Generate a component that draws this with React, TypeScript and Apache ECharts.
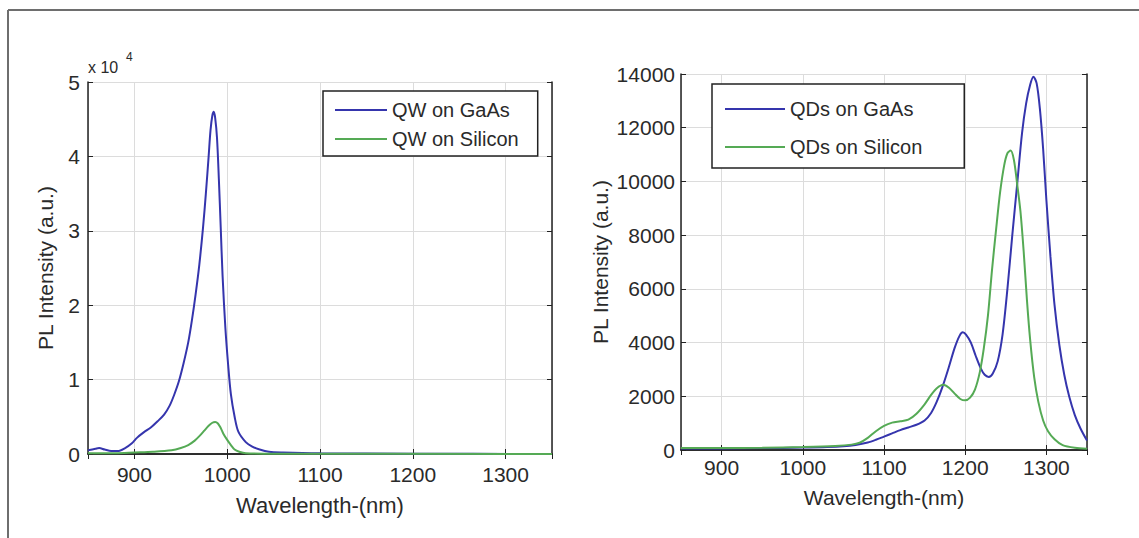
import React, { useEffect, useRef } from "react";
import * as echarts from "echarts";

// Left panel: QW spectra (values in units of 10^4 a.u.)
const qwGaAsWl = [850, 858, 862, 868, 875, 882, 890, 897, 903, 910, 918, 925, 932, 938, 943, 948, 953, 958, 962, 966, 970, 974, 977, 980, 982, 984, 985.5, 987, 989, 991, 993, 995, 998, 1001, 1004, 1008, 1012, 1020, 1027, 1035, 1045, 1060, 1100, 1200, 1350];
const qwGaAsVal = [0.05, 0.07, 0.08, 0.06, 0.04, 0.04, 0.08, 0.14, 0.22, 0.29, 0.36, 0.44, 0.53, 0.65, 0.8, 0.98, 1.22, 1.5, 1.8, 2.15, 2.55, 3.05, 3.5, 4.0, 4.35, 4.55, 4.6, 4.52, 4.25, 3.7, 3.05, 2.4, 1.7, 1.2, 0.8, 0.5, 0.3, 0.16, 0.1, 0.06, 0.03, 0.02, 0.01, 0.005, 0];
const qwSiWl = [850, 880, 900, 920, 940, 950, 958, 965, 970, 975, 980, 984, 987, 990, 993, 996, 1000, 1004, 1008, 1013, 1020, 1040, 1350];
const qwSiVal = [0.01, 0.01, 0.02, 0.03, 0.05, 0.08, 0.12, 0.18, 0.24, 0.31, 0.38, 0.42, 0.43, 0.41, 0.35, 0.27, 0.19, 0.12, 0.06, 0.03, 0.01, 0.005, 0];

// Right panel: QD spectra (a.u.)
const qdGaAsWl = [850, 900, 950, 1000, 1030, 1050, 1065, 1080, 1090, 1100, 1110, 1120, 1130, 1140, 1150, 1158, 1165, 1172, 1180, 1187, 1193, 1197, 1201, 1207, 1213, 1219, 1224, 1229, 1234, 1240, 1246, 1252, 1258, 1264, 1270, 1275, 1280, 1284, 1288, 1292, 1296, 1300, 1305, 1310, 1316, 1322, 1328, 1335, 1342, 1350];
const qdGaAsVal = [60, 60, 70, 90, 110, 140, 190, 280, 380, 500, 620, 740, 840, 940, 1100, 1380, 1800, 2350, 3100, 3800, 4250, 4380, 4300, 4000, 3500, 3050, 2800, 2720, 2850, 3300, 4300, 6000, 8000, 9900, 11800, 12900, 13600, 13900, 13650, 12700, 11200, 9300, 7200, 5400, 3900, 2800, 2000, 1300, 800, 350];
const qdSiWl = [850, 900, 950, 1000, 1040, 1060, 1070, 1080, 1090, 1100, 1110, 1120, 1130, 1140, 1150, 1158, 1165, 1173, 1180, 1187, 1194, 1200, 1206, 1212, 1218, 1223, 1228, 1233, 1238, 1243, 1248, 1252, 1256, 1260, 1264, 1268, 1272, 1276, 1280, 1285, 1290, 1296, 1302, 1310, 1320, 1335, 1350];
const qdSiVal = [70, 70, 80, 110, 150, 200, 270, 450, 700, 900, 1020, 1070, 1130, 1350, 1700, 2050, 2300, 2430, 2320, 2100, 1900, 1850, 1950, 2250, 2900, 3800, 5000, 6700, 8200, 9600, 10600, 11050, 11150, 10800, 9900, 8900, 7400, 5600, 4100, 2700, 1800, 1100, 700, 400, 180, 80, 50];

const leftNames = ["QW on GaAs", "QW on Silicon"];
const rightNames = ["QDs on GaAs", "QDs on Silicon"];
const xTitle = "Wavelength-(nm)";
const yTitle = "PL Intensity (a.u.)";

const BLUE = "#3535ad";
const GREEN = "#55aa55";
const FONT = "'Liberation Sans', Arial, Helvetica, sans-serif";
const TXT = "#2a2a2a";

const pairs = (xs: number[], ys: number[]) => xs.map((x, i) => [x, ys[i]]);

export default function App() {
  const ref = useRef<HTMLDivElement>(null);
  useEffect(() => {
    document.body.style.margin = "0";
    const chart = echarts.init(ref.current!, null, { renderer: "svg" });
    const axisLine = { show: true, lineStyle: { color: "#222", width: 1.5 } };
    const tick = { show: true, inside: true, length: 5, lineStyle: { color: "#222", width: 1 } };
    const split = { show: true, lineStyle: { color: "#dcdcdc", width: 1 } };
    const lbl = { color: TXT, fontSize: 21, fontFamily: FONT, formatter: (v: number) => String(v) };
    const xBottom = (g: number, margin: number) => ({
      type: "value", gridIndex: g, min: 850, max: 1350, splitNumber: 5, position: "bottom",
      axisLine, axisTick: tick, splitLine: split,
      axisLabel: { ...lbl, margin, showMinLabel: false, showMaxLabel: false },
    });
    const xTop = (g: number) => ({
      type: "value", gridIndex: g, min: 850, max: 1350, splitNumber: 5, position: "top",
      axisLine, axisTick: tick, splitLine: { show: false }, axisLabel: { show: false },
    });
    const yLeft = (g: number, max: number, interval: number, margin: number) => ({
      type: "value", gridIndex: g, min: 0, max, interval, position: "left",
      axisLine, axisTick: tick, splitLine: split, axisLabel: { ...lbl, margin },
    });
    const yRight = (g: number, max: number, interval: number) => ({
      type: "value", gridIndex: g, min: 0, max, interval, position: "right",
      axisLine, axisTick: tick, splitLine: { show: false }, axisLabel: { show: false },
    });
    const line = (name: string, color: string, data: number[][], xi: number, yi: number) => ({
      type: "line", name, data, xAxisIndex: xi, yAxisIndex: yi, smooth: 0.3, symbol: "none",
      lineStyle: { color, width: 2 }, itemStyle: { color }, z: 3,
    });
    const legendBase = {
      orient: "vertical", selectedMode: false, backgroundColor: "#fff",
      borderColor: "#222", borderWidth: 1.5, borderRadius: 0, itemHeight: 2, icon: "rect",
      textStyle: { color: TXT, fontSize: 20, fontFamily: FONT, lineHeight: 24 }, z: 10,
    };
    chart.setOption({
      animation: false,
      backgroundColor: "#fff",
      grid: [
        { left: 88, top: 82, width: 464, height: 372 },
        { left: 681, top: 74, width: 406, height: 376 },
      ],
      xAxis: [xBottom(0, 10), xTop(0), xBottom(1, 7), xTop(1)],
      yAxis: [yLeft(0, 5, 1, 8), yRight(0, 5, 1), yLeft(1, 14000, 2000, 6), yRight(1, 14000, 2000)],
      legend: [
        { ...legendBase, data: leftNames, left: 323, top: 91, padding: [7, 19, 5, 12], itemWidth: 52, itemGap: 5 },
        { ...legendBase, data: rightNames, left: 712, top: 84, padding: [13, 42, 9, 13], itemWidth: 60, itemGap: 14 },
      ],
      series: [
        line(leftNames[0], BLUE, pairs(qwGaAsWl, qwGaAsVal), 0, 0),
        line(leftNames[1], GREEN, pairs(qwSiWl, qwSiVal), 0, 0),
        line(rightNames[0], BLUE, pairs(qdGaAsWl, qdGaAsVal), 2, 2),
        line(rightNames[1], GREEN, pairs(qdSiWl, qdSiVal), 2, 2),
      ],
      graphic: [
        { type: "line", shape: { x1: 8, y1: 10, x2: 1139, y2: 10 }, style: { stroke: "#6e6e6e", lineWidth: 2 } },
        { type: "line", shape: { x1: 8, y1: 10, x2: 8, y2: 538 }, style: { stroke: "#6e6e6e", lineWidth: 2 } },
        { type: "text", x: 88, y: 67, style: { text: "x 10", font: `16px ${FONT}`, fill: TXT, align: "left", verticalAlign: "middle" } },
        { type: "text", x: 126, y: 57, style: { text: "4", font: `12px ${FONT}`, fill: TXT, align: "left", verticalAlign: "middle" } },
        { type: "text", x: 320, y: 505, style: { text: xTitle, font: `22px ${FONT}`, fill: TXT, align: "center", verticalAlign: "middle" } },
        { type: "text", x: 884, y: 497, style: { text: xTitle, font: `21px ${FONT}`, fill: TXT, align: "center", verticalAlign: "middle" } },
        { type: "text", x: 45, y: 268, rotation: Math.PI / 2, style: { text: yTitle, font: `21px ${FONT}`, fill: TXT, align: "center", verticalAlign: "middle" } },
        { type: "text", x: 600, y: 262, rotation: Math.PI / 2, style: { text: yTitle, font: `21px ${FONT}`, fill: TXT, align: "center", verticalAlign: "middle" } },
      ],
    });
    return () => chart.dispose();
  }, []);
  return <div ref={ref} style={{ width: 1139, height: 538 }} />;
}
